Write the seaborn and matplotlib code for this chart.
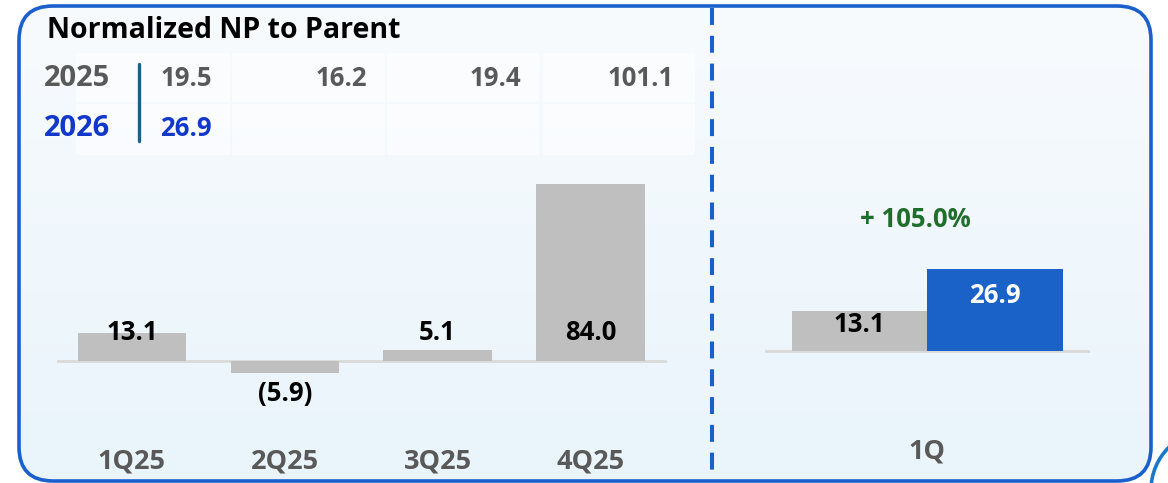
"""
Normalized NP to Parent - quarterly bars plus 1Q year-on-year comparison.
"""
import numpy as np
import pandas as pd
import matplotlib.pyplot as plt
import seaborn as sns
from matplotlib.patches import FancyBboxPatch, Rectangle, Circle

sns.set_theme(style="white")
plt.rcParams["font.family"] = ["Open Sans", "DejaVu Sans"]

# data
quarters = ["1Q25", "2Q25", "3Q25", "4Q25"]
np_2025 = [13.1, -5.9, 5.1, 84.0]
ytd_years = ["2025", "2026"]
ytd_2025 = ["19.5", "16.2", "19.4", "101.1"]
ytd_2026 = ["26.9"]
yoy_labels = ["1Q25", "1Q26"]
yoy_values = [13.1, 26.9]
yoy_change = "+ 105.0%"
yoy_tick = "1Q"

GRAY_BAR = "#bfbfbf"
BLUE_BAR = "#1a62c8"
BORDER = "#1a5fcc"
TXT_GRAY = "#595959"
TXT_BLUE = "#1238c9"
GREEN = "#1f6e2b"

W, H = 1168, 483
fig = plt.figure(figsize=(W / 100, H / 100), dpi=100)
fig.patch.set_facecolor("white")


def px_axes(x0, y0, x1, y1):
    # axes from pixel box (top-left origin)
    return fig.add_axes([x0 / W, 1 - y1 / H, (x1 - x0) / W, (y1 - y0) / H])


# background layer in pixel coords
bg = fig.add_axes([0, 0, 1, 1], zorder=0)
bg.set_xlim(0, W)
bg.set_ylim(H, 0)
bg.axis("off")

frame = FancyBboxPatch((19, 6), 1132, 475, boxstyle="round,pad=0,rounding_size=34",
                       facecolor="none", edgecolor=BORDER, lw=2.6, zorder=5)
bg.add_patch(frame)
grad = np.linspace(0, 1, 256).reshape(-1, 1)
top_c = np.array([248, 251, 254]) / 255
bot_c = np.array([233, 244, 251]) / 255
img = top_c + grad[..., None] * (bot_c - top_c)
im = bg.imshow(img, extent=[0, W, H, 0], aspect="auto", zorder=1)
im.set_clip_path(frame)
bg.add_patch(Circle((1211, 490), 60, facecolor="none", edgecolor="#1a78c8", lw=2.6, zorder=5))

# dashed divider
bg.plot([712, 712], [8, 472], color=BORDER, lw=2.9, ls=(0, (4.2, 2.7)), zorder=4)

# title
bg.text(47, 31, "Normalized NP to Parent", fontsize=20.5, fontweight="bold",
        color="black", va="center", ha="left", zorder=6)

# small table of year-to-date figures
col_edges = [(76, 230), (232, 385), (387, 539), (543, 695)]
row_edges = [(53, 102), (104, 155)]
for (r0, r1) in row_edges:
    for (c0, c1) in col_edges:
        bg.add_patch(Rectangle((c0, r0), c1 - c0, r1 - r0, facecolor="white",
                               alpha=0.55, lw=0, zorder=2))
row_y = [78, 128]
row_col = [TXT_GRAY, TXT_BLUE]
for yr, yy, cc in zip(ytd_years, row_y, row_col):
    bg.text(44, yy, yr, fontsize=21, fontweight="bold", color=cc, va="center", zorder=6)
val_right = [212, 367, 521, 674]
for vals, yy, cc in zip([ytd_2025, ytd_2026], row_y, row_col):
    for v, xr in zip(vals, val_right):
        bg.text(xr, yy, v, fontsize=18.5, fontweight="bold", color=cc,
                va="center", ha="right", zorder=6)
bg.plot([139, 139], [64, 141], color="#1f5f7f", lw=2.4, zorder=6)

# left panel: quarterly bars
df_q = pd.DataFrame({"quarter": quarters, "value": np_2025})
ax = px_axes(57, 150, 667, 475)
sns.barplot(data=df_q, x="quarter", y="value", color=GRAY_BAR, width=0.71,
            saturation=1, linewidth=0, ax=ax, zorder=3)
ax.axhline(0, color="#d9d9d9", lw=2, zorder=2)
ax.set_xlim(-0.49, 3.50)
ax.set_ylim(-54.1, 100.1)
for i, v in enumerate(np_2025):
    if v >= 0:
        lab, ly = f"{v:.1f}", 13.3
    else:
        lab, ly = f"({abs(v):.1f})", -15.2
    ax.text(i, ly, lab, fontsize=18.5, fontweight="bold", color="black",
            ha="center", va="center", zorder=5)
    ax.text(i, -47.9, quarters[i], fontsize=19.5, fontweight="bold", color=TXT_GRAY,
            ha="center", va="center")

# right panel: 1Q comparison
df_y = pd.DataFrame({"period": yoy_labels, "value": yoy_values})
ax2 = px_axes(765, 200, 1090, 475)
sns.barplot(data=df_y, x="period", y="value", hue="period", palette=[GRAY_BAR, BLUE_BAR],
            width=1.0, saturation=1, linewidth=0, legend=False, ax=ax2, zorder=3)
ax2.axhline(0, color="#d9d9d9", lw=2, zorder=2)
ax2.set_xlim(-0.697, 1.701)
ax2.set_ylim(-40.7, 49.5)
for i, v in enumerate(yoy_values):
    ax2.text(i, v * 0.67, f"{v:.1f}", fontsize=18.5, fontweight="bold",
             color="black" if i == 0 else "white", ha="center", va="center", zorder=5)
ax2.text(0.41, 43, yoy_change, fontsize=18.5, fontweight="bold", color=GREEN,
         ha="center", va="center")
ax2.text(0.5, -33.1, yoy_tick, fontsize=19.5, fontweight="bold", color=TXT_GRAY,
         ha="center", va="center")

for a in (ax, ax2):
    a.set_facecolor("none")
    a.set_xticks([])
    a.set_yticks([])
    a.set_xlabel("")
    a.set_ylabel("")
    sns.despine(ax=a, left=True, bottom=True)

fig.savefig("out.png", dpi=100)
